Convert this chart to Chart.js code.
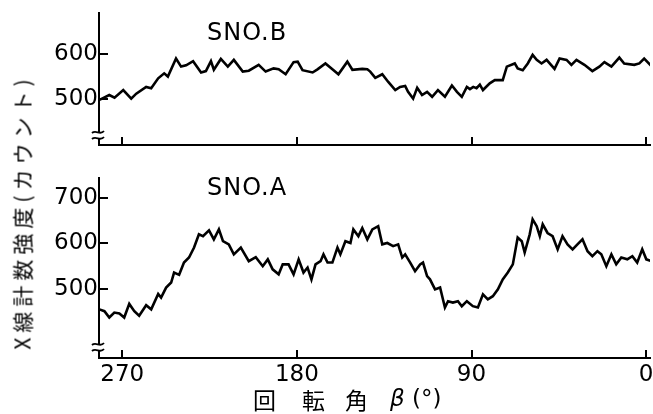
<!DOCTYPE html>
<html>
<head>
<meta charset="utf-8">
<script src="https://cdn.jsdelivr.net/npm/chart.js@4"></script>
<style>
  body { margin: 0; background: #fff; }
  #wrap { position: relative; width: 653px; height: 414px; overflow: hidden; font-family: "DejaVu Sans", sans-serif; color: #000; }
  canvas { position: absolute; left: 0; }
  .lbl { position: absolute; white-space: nowrap; line-height: 1; }
  .jp { font-family: "Noto Sans CJK JP", sans-serif; }
</style>
</head>
<body>
<div id="wrap">
  <canvas id="grafB" width="653" height="165" style="top:0"></canvas>
  <canvas id="grafA" width="653" height="249" style="top:165px"></canvas>
  <div class="lbl" style="left:207px;top:20px;font-size:24px;letter-spacing:1px">SNO.B</div>
  <div class="lbl" style="left:207px;top:175px;font-size:24px;letter-spacing:1px">SNO.A</div>
  <div class="lbl jp" style="left:22px;top:212px;font-size:21px;letter-spacing:5px;transform:translate(-50%,-50%) rotate(-90deg)">X線計数強度(カウント)</div>
  <div class="lbl jp" style="left:253px;top:388px;font-size:23px">回</div>
  <div class="lbl jp" style="left:302px;top:388px;font-size:23px">転</div>
  <div class="lbl jp" style="left:345px;top:388px;font-size:23px">角</div>
  <div class="lbl" style="left:390px;top:387px;font-size:23px"><i>β</i> (°)</div>
</div>
<script>
// angulo de rotacion beta (grados) y cuentas de rayos X
let anguloB = [281.8, 276.7, 274.0, 269.5, 265.4, 262.8, 257.7, 255.1, 251.5, 248.4, 246.5, 242.3, 239.7, 237.1, 233.5,
  229.4, 226.9, 224.3, 222.8, 219.2, 215.6, 212.5, 207.9, 204.8, 199.7, 196.1, 192.0, 189.4, 185.8, 181.7,
  179.6, 177.1, 171.9, 169.4, 165.3, 161.7, 158.6, 154.0, 151.4, 146.3, 143.7, 142.2, 139.6, 136.0, 132.9,
  129.3, 126.8, 124.2, 122.7, 120.1, 118.0, 115.5, 112.9, 110.3, 107.3, 103.7, 100.1, 97.5, 95.0, 92.4,
  90.8, 89.1, 87.4, 85.7, 84.1, 80.6, 78.0, 73.9, 71.8, 67.7, 66.2, 63.6, 61.0, 58.5, 56.4,
  53.9, 51.3, 47.2, 44.6, 41.0, 38.5, 35.9, 31.8, 27.7, 24.1, 21.5, 17.9, 13.8, 11.3, 6.1,
  3.5, 1.0, -2.6];
let cuentasB = [498, 509, 503, 520, 501, 512, 527, 524, 546, 557, 550, 590, 572, 575, 584,
  559, 562, 584, 565, 589, 572, 587, 561, 563, 576, 561, 568, 566, 555, 582,
  583, 564, 559, 566, 579, 566, 555, 583, 565, 567, 566, 561, 547, 555, 538,
  520, 527, 529, 516, 501, 525, 509, 516, 505, 520, 505, 530, 516, 505, 527,
  522, 527, 524, 532, 520, 535, 542, 542, 572, 579, 568, 564, 579, 598, 587,
  579, 587, 567, 590, 587, 576, 587, 576, 562, 572, 582, 572, 592, 579, 576,
  579, 590, 574];

let anguloA = [281.8, 279.2, 276.7, 274.1, 271.5, 269.0, 266.4, 263.8, 261.3, 257.7, 255.1, 251.5, 250.0, 247.4, 244.8,
  243.3, 240.7, 238.2, 235.6, 233.0, 230.5, 228.4, 225.3, 222.8, 220.2, 218.1, 215.1, 212.5, 208.9, 204.8,
  201.2, 197.6, 195.0, 192.5, 189.4, 187.3, 184.3, 181.7, 179.1, 176.6, 174.5, 172.5, 170.4, 167.8, 166.3,
  164.2, 161.7, 159.1, 157.6, 155.0, 152.4, 150.9, 148.3, 146.3, 143.7, 141.1, 138.1, 136.0, 133.4, 130.4,
  127.8, 125.7, 124.2, 121.6, 119.1, 116.5, 115.0, 112.9, 111.4, 108.8, 106.2, 103.7, 102.1, 99.6, 97.0,
  95.0, 92.4, 89.3, 86.7, 84.1, 81.6, 79.0, 76.4, 73.9, 71.3, 68.7, 66.2, 64.1, 62.6, 60.0,
  58.5, 56.4, 54.8, 53.3, 50.8, 48.2, 45.6, 43.1, 40.5, 37.9, 35.4, 32.8, 30.2, 27.7, 25.1,
  23.1, 20.5, 17.9, 15.4, 12.8, 9.7, 7.1, 4.6, 2.0, -0.1, -3.1];
let cuentasA = [455, 451, 437, 448, 446, 437, 467, 451, 441, 464, 455, 489, 481, 503, 514,
  536, 531, 558, 569, 591, 620, 616, 629, 609, 631, 605, 598, 576, 591, 561,
  570, 550, 565, 543, 532, 554, 554, 532, 565, 536, 547, 521, 554, 561, 576,
  558, 558, 591, 576, 605, 601, 631, 616, 634, 609, 631, 638, 598, 601, 594,
  598, 569, 576, 558, 539, 554, 558, 528, 521, 499, 503, 459, 473, 470, 473,
  462, 473, 462, 459, 488, 477, 484, 499, 521, 536, 554, 613, 605, 580, 620,
  653, 638, 616, 642, 623, 616, 587, 616, 598, 587, 598, 609, 583, 572, 583,
  576, 550, 576, 554, 569, 565, 572, 558, 587, 565, 561];

let ticksX = [270, 180, 90, 0];
let ticksB = [500, 600];
let ticksA = [500, 600, 700];

// marca de corte del eje y
const corteEje = {
  id: 'corteEje',
  afterDraw(chart, args, opts) {
    const ctx = chart.ctx;
    const x = chart.chartArea.left;
    const y = chart.chartArea.bottom - opts.offset;
    ctx.save();
    ctx.fillStyle = '#fff';
    ctx.fillRect(x - 3, y - 2, 6, 5);
    ctx.strokeStyle = '#000';
    ctx.lineWidth = 1.8;
    [y - 3, y + 3].forEach((yy) => {
      ctx.beginPath();
      ctx.moveTo(x - 7, yy + 1);
      ctx.bezierCurveTo(x - 3, yy - 3, x + 1, yy + 4, x + 5, yy - 1);
      ctx.stroke();
    });
    ctx.restore();
  }
};

function sinRelleno(s) {
  s.paddingTop = 0;
  s.paddingBottom = 0;
  s.paddingLeft = 0;
  s.paddingRight = 0;
}

function ejeX(mostrarEtiquetas, alto) {
  return {
    type: 'linear',
    reverse: true,
    min: -2,
    max: 282,
    afterBuildTicks: (s) => { s.ticks = ticksX.map((v) => ({ value: v })); },
    afterFit: (s) => { s.height = alto; sinRelleno(s); },
    ticks: { display: mostrarEtiquetas, color: '#000', padding: 11, maxRotation: 0,
      font: { family: 'DejaVu Sans', size: 23 } },
    grid: { drawOnChartArea: false, drawTicks: true, tickLength: -8, color: '#000', lineWidth: 2 },
    border: { display: true, color: '#000', width: 2 }
  };
}

function ejeY(min, max, marcas) {
  return {
    min: min,
    max: max,
    afterBuildTicks: (s) => { s.ticks = marcas.map((v) => ({ value: v })); },
    afterFit: (s) => { s.width = 99; sinRelleno(s); },
    ticks: { color: '#000', padding: 10, font: { family: 'DejaVu Sans', size: 23 } },
    grid: { drawOnChartArea: false, drawTicks: true, tickLength: -9, color: '#000', lineWidth: 2 },
    border: { display: true, color: '#000', width: 2 }
  };
}

function graficar(idCanvas, angulos, cuentas, ejeVertical, altoX, etiquetasX, corte) {
  const data = {
    datasets: [{
      label: 'Cuentas',
      data: angulos.map((a, i) => ({ x: a, y: cuentas[i] })),
      borderColor: '#000',
      borderWidth: 2.6,
      pointRadius: 0,
      tension: 0
    }]
  };
  const config = {
    type: 'line',
    data: data,
    options: {
      responsive: false,
      animation: false,
      layout: { padding: { top: 13, right: 3, left: 0, bottom: 0 } },
      plugins: { legend: { display: false }, tooltip: { enabled: false }, corteEje: { offset: corte } },
      scales: { x: ejeX(etiquetasX, altoX), y: ejeVertical }
    },
    plugins: [corteEje]
  };
  return new Chart(document.querySelector(idCanvas).getContext('2d'), config);
}

graficar('#grafB', anguloB, cuentasB, ejeY(398, 691, ticksB), 20, false, 10);
graficar('#grafA', anguloA, cuentasA, ejeY(348, 744, ticksA), 56, true, 11);
</script>
</body>
</html>
